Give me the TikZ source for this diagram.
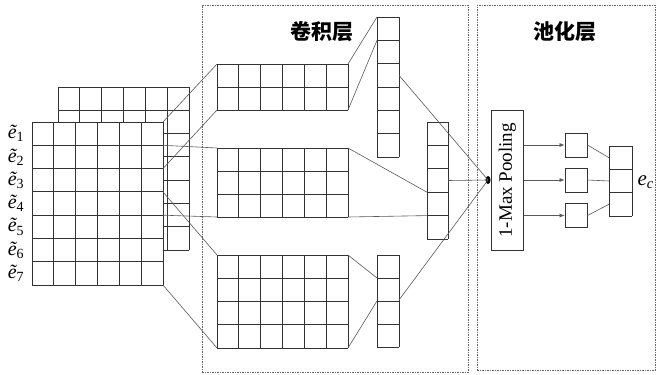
\documentclass[tikz,border=0pt]{standalone}
\usepackage{fontspec}
\setmainfont{Liberation Serif}
\newfontfamily\cjk{Noto Sans CJK SC}
\usetikzlibrary{arrows.meta,shapes.geometric,calc}
\tikzset{
  gl/.style={line width=0.9pt, draw=black!80},
  conn/.style={line width=0.6pt, draw=black!65},
  dbox/.style={draw=black!60, line width=0.6pt, dash pattern=on 1.5pt off 1pt},
  lbl/.style={font=\fontsize{20}{20}\selectfont\itshape, inner sep=0pt},
  ttl/.style={font=\fontsize{21}{21}\selectfont\cjk\bfseries},
  sq/.style={gl, draw, minimum width=22pt, minimum height=24pt, inner sep=0pt},
  arr/.style={conn, -{Latex[length=5pt,width=4pt]}}
}
\newcommand\mygrid[8]{%
  \node[inner sep=0pt, outer sep=0pt, anchor=north west, minimum width={#4*#6*1pt}, minimum height={#5*#7*1pt}, fill=#8] (#1) at (#2,#3) {};
  \foreach \i in {0,...,#4} \draw[gl] ({#2+\i*#6},#3) -- ({#2+\i*#6},{#3+#5*#7});
  \foreach \j in {0,...,#5} \draw[gl] (#2,{#3+\j*#7}) -- ({#2+#4*#6},{#3+\j*#7});
}
\begin{document}
\begin{tikzpicture}[x=1pt,y=-1pt]
\useasboundingbox[fill=white] (0,0) rectangle (665,375);
% dashed boxes
\node[dbox, draw, anchor=north west, minimum width=266pt, minimum height=367pt, inner sep=0pt] (convbox) at (202,5) {};
\node[dbox, draw, anchor=north west, minimum width=178pt, minimum height=365pt, inner sep=0pt] (poolbox) at (477,5) {};
\node[ttl] (t1) at (322,32) {卷积层};
\node[ttl] (t2) at (565,32) {池化层};
% input matrices
\mygrid{back}{58}{87}{6}{7}{21.83}{23.29}{white}
\mygrid{front}{32}{122}{6}{7}{21.83}{23.29}{white}
\foreach \k in {1,...,7} \node[lbl] (e\k) at (16,{122+(\k-0.5)*23.29}) {ẽ\textsubscript{\upshape\k}};
% conv matrices
\mygrid{ca}{217}{64}{6}{2}{21.83}{23}{white}
\mygrid{cb}{217}{148}{6}{3}{21.83}{23}{white}
\mygrid{cc}{217}{255}{6}{4}{21.83}{23.25}{white}
% feature maps
\mygrid{fa}{377}{17}{1}{6}{22}{23.33}{white}
\mygrid{fb}{427}{122}{1}{5}{21}{23.4}{white}
\mygrid{fc}{377}{255}{1}{4}{22}{23}{white}
% input -> conv
\draw[conn] (front.north east) -- (ca.north west);
\draw[conn] ($(front.north east)+(0,46.6)$) -- (ca.south west);
\draw[conn] ($(front.north east)+(0,23.3)$) -- (cb.north west);
\draw[conn] ($(front.north east)+(0,93.2)$) -- (cb.south west);
\draw[conn] ($(front.north east)+(0,69.9)$) -- (cc.north west);
\draw[conn] (front.south east) -- (cc.south west);
% conv -> feature maps
\draw[conn] (ca.north east) -- (fa.north west);
\draw[conn] (ca.south east) -- ($(fa.north west)+(0,23.33)$);
\draw[conn] (cb.north east) -- ($(fb.north west)+(0,70.2)$);
\draw[conn] (cb.south east) -- ($(fb.north west)+(0,93.6)$);
\draw[conn] (cc.north east) -- ($(fc.north west)+(0,23)$);
\draw[conn] (cc.south east) -- ($(fc.north west)+(0,46)$);
% feature maps -> dot
\node[ellipse, fill=black, minimum width=5pt, minimum height=8pt, inner sep=0pt] (dot) at (488,180) {};
\draw[conn] ($(fa.north east)+(0,58.3)$) -- (dot.center);
\draw[conn] (fb.east) -- (dot.center);
\draw[conn] ($(fc.north east)+(0,45)$) -- (dot.center);
% pooling
\node[gl, draw, anchor=north west, minimum width=32pt, minimum height=140pt, inner sep=0pt] (pool) at (491,110) {};
\node[rotate=90, font=\fontsize{19}{19}\selectfont] (pooltxt) at (pool.center) {1-Max Pooling};
\node[sq] (s1) at (576,145) {};
\node[sq] (s2) at (576,180) {};
\node[sq] (s3) at (576,215.5) {};
\draw[arr] (pool.east |- s1.west) -- (s1.west);
\draw[arr] (pool.east |- s2.west) -- (s2.west);
\draw[arr] (pool.east |- s3.west) -- (s3.west);
\mygrid{vec}{609}{146}{1}{3}{23}{23.33}{white}
\draw[conn] (s1.east) -- ($(vec.north west)+(0,11.7)$);
\draw[conn] (s2.east) -- ($(vec.north west)+(0,35)$);
\draw[conn] (s3.east) -- ($(vec.north west)+(0,58.3)$);
\node[font=\fontsize{21}{21}\selectfont\itshape, anchor=west] (ec) at (634,182) {e\textsubscript{c}};
\end{tikzpicture}
\end{document}
